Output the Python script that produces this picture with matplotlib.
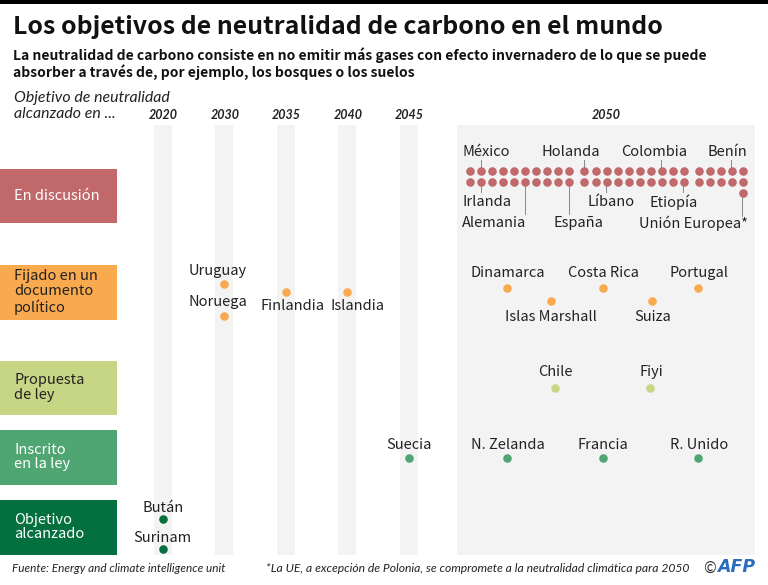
import matplotlib
matplotlib.use("Agg")
import matplotlib.pyplot as plt
from matplotlib.patches import Rectangle

# ---------- data ----------
YEARS = [2020, 2030, 2035, 2040, 2045, 2050]
STATUSES = ["En discusión", "Fijado en un\ndocumento\npolítico", "Propuesta\nde ley",
            "Inscrito\nen la ley", "Objetivo\nalcanzado"]
COUNTRIES = ["Uruguay", "Noruega", "Finlandia", "Islandia", "Dinamarca", "Costa Rica", "Portugal",
             "Islas Marshall", "Suiza", "Chile", "Fiyi", "Suecia", "N. Zelanda", "Francia",
             "R. Unido", "Bután", "Surinam"]
COUNTRY_YEAR = [2030, 2030, 2035, 2040, 2050, 2050, 2050, 2050, 2050, 2050, 2050,
                2045, 2050, 2050, 2050, 2020, 2020]
COUNTRY_STATUS = [1, 1, 1, 1, 1, 1, 1, 1, 1, 2, 2, 3, 3, 3, 3, 4, 4]
DISCUSSION_GROUPS = [10, 10, 5]      # dots per block, in each of the two rows
DISCUSSION_LABELS_TOP = ["México", "Holanda", "Colombia", "Benín"]
DISCUSSION_LABELS_BOTTOM = ["Irlanda", "Alemania", "Líbano", "España", "Etiopía", "Unión Europea*"]

TITLE = "Los objetivos de neutralidad de carbono en el mundo"
SUBTITLE = ("La neutralidad de carbono consiste en no emitir más gases con efecto invernadero de lo que se puede\n"
            "absorber a través de, por ejemplo, los bosques o los suelos")
AXIS_NOTE = ["Objetivo de neutralidad", "alcanzado en ..."]
SOURCE = "Fuente: Energy and climate intelligence unit"
NOTE = "*La UE, a excepción de Polonia, se compromete a la neutralidad climática para 2050"

# ---------- layout (pixels) ----------
W, H = 768, 585
FONT = "Noto Sans CJK SC"
ITALIC = "Lato"
YEAR_X = {2020: 163, 2030: 225, 2035: 286, 2040: 348, 2045: 409, 2050: 606}
DOT_X = {2020: 163, 2030: 224, 2035: 286, 2040: 347, 2045: 409, 2050: 606}
BAND_X = {2020: (154, 172), 2030: (215, 233), 2035: (277, 295), 2040: (338, 356), 2045: (400, 418), 2050: (457, 755)}
BOX_Y = [(169, 223), (265, 320), (361, 415), (430, 485), (500, 555)]
COLORS = ["#c0686a", "#f9a94e", "#c7d685", "#50a672", "#04703f"]
TEXTC = ["#ffffff", "#222222", "#222222", "#ffffff", "#ffffff"]
DOT_OFF = [(0, 284), (0, 316), (0, 292), (0, 292), (-99, 288), (-3, 288), (92, 288), (-55, 301), (46, 301),
           (-51, 388), (44, 388), (0, 458), (-99, 458), (-3, 458), (92, 458), (0, 519), (0, 549)]
LABEL_POS = [(217.5, 271), (217.5, 302), (293, 305.5), (358, 305.5), (507.5, 273), (603, 273), (699, 273),
             (551, 317), (652.5, 317), (555, 372), (651, 372), (409, 445), (507.5, 445), (603, 445), (699, 445),
             (163, 508), (162.5, 538)]
TOP_POS = [(486.5, 481), (571, 584), (654, 660.7), (727, 731.3)]
BOTTOM_POS = [(487, 202, 481, 192), (494.5, 223, 525, 214), (611, 202, 606, 192),
              (578, 223, 568.7, 214), (674, 202, 683, 192), (693, 223, 742.3, 216)]

plt.rcParams["font.family"] = [FONT, "DejaVu Sans"]
fig = plt.figure(figsize=(W / 100, H / 100), dpi=100, facecolor="white")
ax = fig.add_axes([0, 0, 1, 1])
ax.set_xlim(0, W)
ax.set_ylim(H, 0)
ax.axis("off")

ax.add_patch(Rectangle((0, 0), W, 4, fc="#000000", ec="none"))
for yr in YEARS:
    x0, x1 = BAND_X[yr]
    ax.add_patch(Rectangle((x0, 125), x1 - x0, 430, fc="#f3f3f3", ec="none", zorder=0))
    ax.text(YEAR_X[yr], 115, str(yr), ha="center", va="center", fontsize=9, style="italic",
            fontweight="bold", color="#222222", family=ITALIC)

ax.text(13, 27, TITLE, fontsize=17.95, fontweight="bold", va="center", color="#111111")
ax.text(13, 63.5, SUBTITLE, fontsize=10.0, fontweight="bold", va="center", color="#111111", linespacing=1.13)
for line, y in zip(AXIS_NOTE, [98, 114]):
    ax.text(14, y, line, fontsize=11.4, style="italic", va="center", color="#222222", family=ITALIC)
ax.text(12, 569, SOURCE, fontsize=8.5, style="italic", va="center", color="#222222", family=ITALIC)
ax.text(266, 569, NOTE, fontsize=8.7, style="italic", va="center", color="#222222", family=ITALIC)
ax.text(709.5, 568.5, "©", fontsize=11, ha="center", va="center", color="#333333")
ax.text(736.5, 567.5, "AFP", fontsize=12.5, fontweight="bold", style="italic", ha="center", va="center",
        color="#2a6ebb", family="DejaVu Sans")

for status, (y0, y1), c, tc in zip(STATUSES, BOX_Y, COLORS, TEXTC):
    ax.add_patch(Rectangle((0, y0), 117, y1 - y0, fc=c, ec="none"))
    ax.text(14, (y0 + y1) / 2 - 0.5, status, fontsize=10.5, va="center", color=tc, linespacing=1.08)

# countries with one dot
for name, yr, st, off, lab in zip(COUNTRIES, COUNTRY_YEAR, COUNTRY_STATUS, DOT_OFF, LABEL_POS):
    ax.scatter(DOT_X[yr] + off[0], off[1], s=38, color=COLORS[st], linewidths=0, zorder=3)
    ax.text(lab[0], lab[1], name, fontsize=10.5, ha="center", va="center", color="#222222", zorder=4)

# 2050 discussion block
row_y = [170.7, 182]
xs = []
x = 470
for i, n in enumerate(DISCUSSION_GROUPS):
    for k in range(n):
        xs.append(x)
        x += 11.03
    x += 4.2
for y in row_y:
    ax.scatter(xs, [y] * len(xs), s=38, color=COLORS[0], linewidths=0, zorder=3)
ax.scatter([xs[-1]], [193.3], s=38, color=COLORS[0], linewidths=0, zorder=3)

for name, (tx, lx) in zip(DISCUSSION_LABELS_TOP, TOP_POS):
    ax.text(tx, 152, name, fontsize=10.5, ha="center", va="center", color="#222222", zorder=4)
    ax.plot([lx, lx], [160, 170], color="#888888", lw=0.7, zorder=2)
for name, (tx, ty, lx, ly) in zip(DISCUSSION_LABELS_BOTTOM, BOTTOM_POS):
    ax.text(tx, ty, name, fontsize=10.5, ha="center", va="center", color="#222222", zorder=4)
    start = 193 if name.startswith("Unión") else 182
    ax.plot([lx, lx], [start, ly], color="#888888", lw=0.7, zorder=2)

fig.savefig("out.png", dpi=100, facecolor="white")
